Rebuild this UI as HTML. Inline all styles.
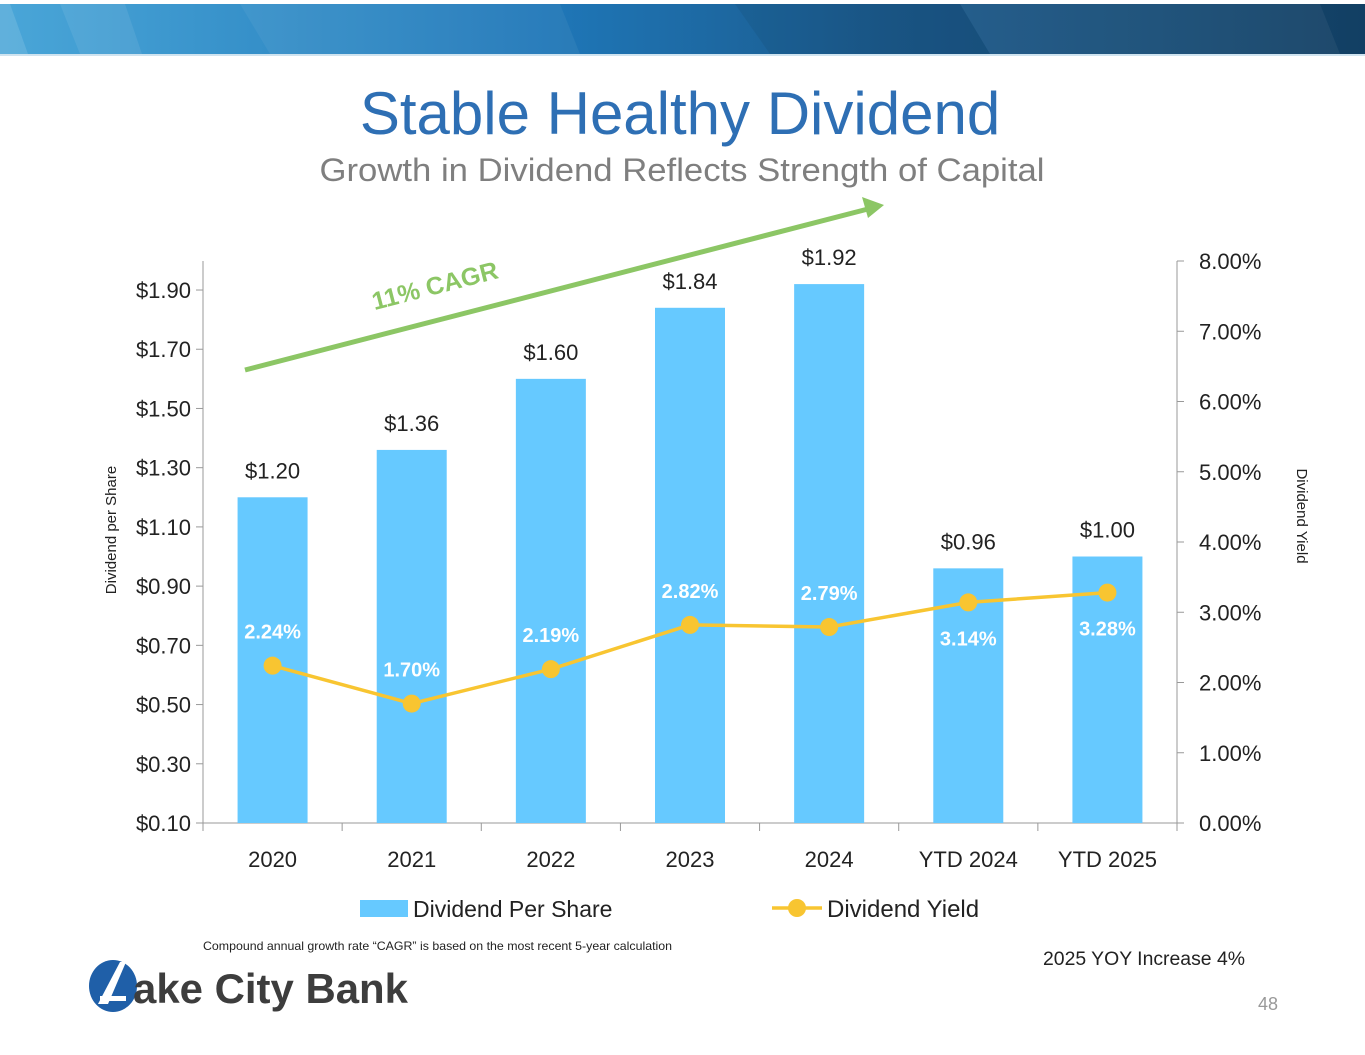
<!DOCTYPE html>
<html><head><meta charset="utf-8"><style>
body{margin:0;width:1365px;height:1055px;background:#fff;overflow:hidden;font-family:"Liberation Sans",sans-serif;position:relative}
</style></head><body>
<svg width="1365" height="1055" style="position:absolute;left:0;top:0">
<defs>
<linearGradient id="bg" x1="0" x2="1"><stop offset="0" stop-color="#4aa6d8"/><stop offset="0.4" stop-color="#1f77b8"/><stop offset="0.65" stop-color="#1b5a8c"/><stop offset="1" stop-color="#123f63"/></linearGradient>
</defs>
<g>
<rect x="0" y="4" width="1365" height="50" fill="url(#bg)"/>
<polygon points="0,4 10,4 28,54 0,54" fill="#fff" opacity="0.12"/>
<polygon points="60,4 125,4 142,54 80,54" fill="#fff" opacity="0.08"/>
<polygon points="240,4 560,4 580,54 270,54" fill="#fff" opacity="0.05"/>
<polygon points="735,4 960,4 990,54 770,54" fill="#000" opacity="0.06"/>
<polygon points="960,4 1320,4 1340,54 990,54" fill="#fff" opacity="0.05"/>
<rect x="0" y="54" width="1365" height="2" fill="#cfe3ef"/>
</g>
<text x="680" y="134" text-anchor="middle" font-size="60" fill="#2e6fb4">Stable Healthy Dividend</text>
<text x="682" y="181" text-anchor="middle" font-size="32" fill="#7f7f7f" textLength="725" lengthAdjust="spacingAndGlyphs">Growth in Dividend Reflects Strength of Capital</text>
<g id="chart"></g>
<g>
<line x1="245" y1="370" x2="868" y2="209" stroke="#8cc665" stroke-width="5"/>
<polygon points="884,205 862,197 868,218" fill="#8cc665"/>
<text x="0" y="0" transform="translate(437,294) rotate(-14.5)" text-anchor="middle" font-size="25" font-weight="bold" fill="#8cc665">11% CAGR</text>
</g>
<text x="203" y="950" font-size="12" fill="#222" textLength="469" lengthAdjust="spacingAndGlyphs">Compound annual growth rate “CAGR” is based on the most recent 5-year calculation</text>
<text x="1043" y="965" font-size="19" fill="#222" textLength="202" lengthAdjust="spacingAndGlyphs">2025 YOY Increase 4%</text>
<text x="1278" y="1010" text-anchor="end" font-size="18" fill="#999">48</text>
<g>
<ellipse cx="113" cy="986" rx="24" ry="26" fill="#1f5fa8"/>
<polygon points="98,1004 120,962 126,962 108,1004" fill="#fff"/>
<rect x="100" y="996" width="26" height="5" fill="#fff"/>
<text x="133" y="1003" font-size="42" font-weight="bold" fill="#3d3d3d" textLength="275" lengthAdjust="spacingAndGlyphs">ake City Bank</text>
</g>
</svg>
<script>
const categories=["2020","2021","2022","2023","2024","YTD 2024","YTD 2025"];
const dps=[1.20,1.36,1.60,1.84,1.92,0.96,1.00];
const yieldPct=[2.24,1.70,2.19,2.82,2.79,3.14,3.28];
const leftTicks=[0.10,0.30,0.50,0.70,0.90,1.10,1.30,1.50,1.70,1.90];
const rightTicks=[0,1,2,3,4,5,6,7,8];
const NS="http://www.w3.org/2000/svg";
const g=document.getElementById('chart');
const X0=203,X1=1177,Y0=823;
const yL=v=>Y0-(v-0.10)*296.1;
const yR=v=>Y0-v*70.25;
const cw=(X1-X0)/categories.length;
const xC=i=>X0+cw*(i+0.5);
function el(t,a,txt){const e=document.createElementNS(NS,t);for(const k in a)e.setAttribute(k,a[k]);if(txt!==undefined)e.textContent=txt;g.appendChild(e);return e;}
let e;
e=el('line',{x1:X0,y1:261,x2:X0,y2:Y0,stroke:'#999'});


e=el('line',{x1:X1,y1:261,x2:X1,y2:Y0,stroke:'#999'});


e=el('line',{x1:X0,y1:Y0,x2:X1,y2:Y0,stroke:'#999'});


leftTicks.forEach(v=>{
 el('line',{x1:X0-7,y1:yL(v),x2:X0,y2:yL(v),stroke:'#999'});
 e=el('text',{x:X0-12,y:yL(v)+8,'text-anchor':'end','font-size':22,fill:'#222'},'$'+v.toFixed(2));
 
 
});
rightTicks.forEach(v=>{
 el('line',{x1:X1,y1:yR(v),x2:X1+7,y2:yR(v),stroke:'#999'});
 e=el('text',{x:X1+22,y:yR(v)+8,'font-size':22,fill:'#222'},v.toFixed(2)+'%');
 
 
});
for(let i=0;i<=categories.length;i++)el('line',{x1:X0+cw*i,y1:Y0,x2:X0+cw*i,y2:Y0+8,stroke:'#999'});
categories.forEach((c,i)=>{
 e=el('text',{x:xC(i),y:867,'text-anchor':'middle','font-size':22,fill:'#222'},c);
 
 
 e=el('rect',{x:xC(i)-35,y:yL(dps[i]),width:70,height:Y0-yL(dps[i]),fill:'#66c9ff'});
 
 
 e=el('text',{x:xC(i),y:yL(dps[i])-19,'text-anchor':'middle','font-size':22,fill:'#222'},'$'+dps[i].toFixed(2));
 
 
});
e=el('polyline',{points:yieldPct.map((v,i)=>xC(i)+','+yR(v)).join(' '),fill:'none',stroke:'#f8c531','stroke-width':3.5});


yieldPct.forEach((v,i)=>{
 e=el('circle',{cx:xC(i),cy:yR(v),r:9,fill:'#f8c531'});
 
 
 const below=i>=5;
 e=el('text',{x:xC(i),y:below?yR(v)+43:yR(v)-27,'text-anchor':'middle','font-size':20,'font-weight':'bold',fill:'#fff'},v.toFixed(2)+'%');
 
 
});
e=el('text',{transform:'translate(116,530) rotate(-90)','text-anchor':'middle','font-size':15,fill:'#222'},'Dividend per Share');


e=el('text',{transform:'translate(1297,516) rotate(90)','text-anchor':'middle','font-size':15,fill:'#222'},'Dividend Yield');


e=el('rect',{x:360,y:900,width:48,height:17,fill:'#66c9ff'});


e=el('text',{x:413,y:917,'font-size':23,fill:'#222'},'Dividend Per Share');


el('line',{x1:772,y1:908,x2:822,y2:908,stroke:'#f8c531','stroke-width':3.5});
e=el('circle',{cx:797,cy:908,r:9,fill:'#f8c531'});


e=el('text',{x:827,y:917,'font-size':24,fill:'#222'},'Dividend Yield');


</script>
</body></html>
